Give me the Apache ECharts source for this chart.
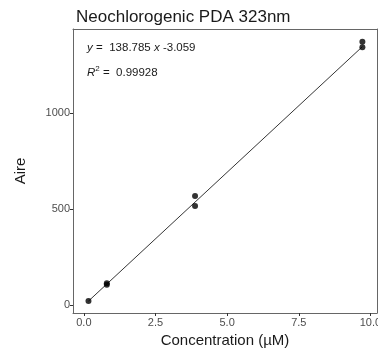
<!DOCTYPE html>
<html><head><meta charset="utf-8">
<script src="https://cdn.jsdelivr.net/npm/echarts@6/dist/echarts.min.js"></script>
<style>html,body{margin:0;padding:0;background:#fff}#c{width:378px;height:353px}</style>
</head><body><div id="c"></div>
<script>
const concX = [0.16, 0.80, 0.80, 3.88, 3.88, 9.72, 9.72];
const aireY = [19, 104, 112, 567, 515, 1372, 1343];
const fitX = [0.16, 9.72];
const fitY = [19.1, 1346];
const xTicks = [0, 2.5, 5, 7.5, 10];
const yTicks = [0, 500, 1000];
const titleText = 'Neochlorogenic PDA 323nm';
const eqText = ['138.785', '-3.059'];
const r2Text = '0.99928';

const chart = echarts.init(document.getElementById('c'), null, {renderer: 'canvas'});
const font = 'Liberation Sans, Arial, sans-serif';
const ink = '#1a1a1a';
chart.setOption({
  animation: false,
  textStyle: {fontFamily: font},
  title: {text: titleText, left: 71, top: 4, textStyle: {fontSize: 17, fontWeight: 'normal', color: ink, fontFamily: font}},
  grid: {left: 73, right: 1, top: 29, bottom: 40, show: false, containLabel: false, outerBoundsMode: 'none'},
  xAxis: [{
    type: 'value', min: -0.38, max: 10.23, position: 'bottom',
    name: 'Concentration (µM)', nameLocation: 'middle', nameGap: 17,
    nameTextStyle: {fontSize: 15, color: ink, fontFamily: font},
    axisLine: {show: true, onZero: false, lineStyle: {color: '#666', width: 1}}, splitLine: {show: false},
    axisTick: {show: true, length: 3, lineStyle: {color: '#333'}, customValues: xTicks},
    axisLabel: {customValues: xTicks, fontSize: 11, color: '#4d4d4d', margin: 4, formatter: v => v.toFixed(1)}
  }, {
    type: 'value', min: -0.38, max: 10.23, position: 'top',
    axisLine: {show: true, onZero: false, lineStyle: {color: '#666', width: 1}},
    axisTick: {show: false}, axisLabel: {show: false}, splitLine: {show: false}
  }],
  yAxis: [{
    type: 'value', min: -43, max: 1438, position: 'left',
    name: 'Aire', nameLocation: 'middle', nameGap: 45, nameRotate: 90,
    nameTextStyle: {fontSize: 15, color: ink, fontFamily: font},
    axisLine: {show: true, onZero: false, lineStyle: {color: '#666', width: 1}}, splitLine: {show: false},
    axisTick: {show: true, length: 3, lineStyle: {color: '#333'}, customValues: yTicks},
    axisLabel: {customValues: yTicks, fontSize: 11, color: '#4d4d4d', margin: 3, formatter: v => String(v)}
  }, {
    type: 'value', min: -43, max: 1438, position: 'right',
    axisLine: {show: true, onZero: false, lineStyle: {color: '#666', width: 1}},
    axisTick: {show: false}, axisLabel: {show: false}, splitLine: {show: false}
  }],
  graphic: [
    {type: 'text', left: 87, top: 42, style: {
      text: '{i|y} {n|=  ' + eqText[0] + ' }{i|x}{n| ' + eqText[1] + '}',
      rich: {i: {fontStyle: 'italic', fontSize: 11.5, fill: ink, fontFamily: font}, n: {fontSize: 11.5, fill: ink, fontFamily: font}}
    }},
    {type: 'text', left: 87, top: 65, style: {
      text: '{i|R}{s|2}{n| =  ' + r2Text + '}',
      rich: {i: {fontStyle: 'italic', fontSize: 11.5, fill: ink, fontFamily: font}, s: {fontSize: 8, fill: ink, verticalAlign: 'top', padding: [0,0,7,0], fontFamily: font}, n: {fontSize: 11.5, fill: ink, fontFamily: font}}
    }}
  ],
  series: [
    {type: 'line', data: fitX.map((x, i) => [x, fitY[i]]), symbol: 'none', lineStyle: {color: '#000', width: 0.8}, silent: true},
    {type: 'scatter', data: concX.map((x, i) => [x, aireY[i]]), symbolSize: 6, itemStyle: {color: '#000'}}
  ]
});
</script></body></html>
